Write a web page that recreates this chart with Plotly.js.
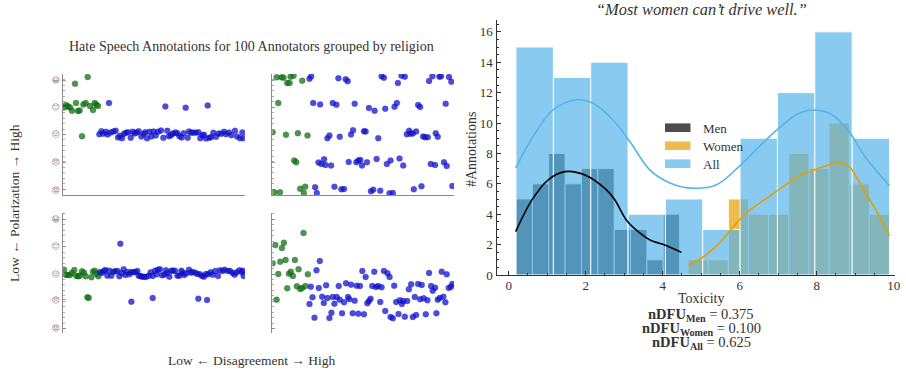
<!DOCTYPE html>
<html><head><meta charset="utf-8">
<script src="https://cdn.plot.ly/plotly-3.0.0.min.js"></script>
<style>html,body{margin:0;padding:0;background:#fff;overflow:hidden}</style>
</head><body><div id="chart" style="width:906px;height:374px"></div>
<script>
// --- Scatter panels: disagreement (x) / polarization (y), two colour groups ---
const p1GreenX=[4,10,16,22,28,40,37,75,46,51,62,69,82,91,96,101,106,58];
const p1GreenY=[81,88,84,81,71,94,152,172,70,72,90,94,85,73,94,89,85,-5];
const p1BlueX=[139,308,369,435,110,116,122,130,135,144,152,159,166,172,178,184,190,196,204,210,216,222,228,236,243,248,253,261,266,273,279,286,295,302,314,319,325,331,338,344,350,357,363,375,379,386,392,400,407,413,419,424,430,440,445,452,460,468,476,484,490,499,506,517,523,532,539,542];
const p1BlueY=[94,84,80,87,1,10,2,8,0,6,9,11,-9,-4,-11,2,5,7,-10,8,3,6,10,-6,2,7,-11,8,-6,9,-3,8,12,-10,11,-5,-2,3,6,4,-5,-9,4,-10,9,5,6,5,7,-11,-2,-1,-12,-10,-8,5,-7,3,2,8,1,6,-2,11,-6,-11,6,-11];

const p2GreenX=[13,28,34,45,52,55,64,90,18,1,41,77,106,66,72,6,23,84,99,95];
const p2GreenY=[171,171,170,154,154,173,176,161,94,7,-1,4,-3,-78,-83,-173,-173,-162,-156,-175];
const p2BlueX=[112,117,199,221,227,329,336,378,389,399,472,482,503,508,532,539,
123,144,182,193,248,291,308,340,368,375,439,445,522,
166,172,203,237,243,276,281,319,405,412,416,423,433,454,460,468,492,498,
139,148,156,160,177,230,253,259,265,270,285,314,345,356,383,394,477,490,517,525,
129,134,187,208,216,297,304,325,353,363,426,449,542];
const p2BlueY=[167,174,168,165,159,174,170,154,176,173,160,174,173,174,172,158,
94,90,94,89,92,79,71,77,83,94,88,82,92,
-11,-3,-7,0,13,10,9,-11,1,11,2,3,9,-6,-8,-8,4,-7,
-84,-88,-74,-91,-93,-82,-83,-78,-76,-93,-83,-73,-88,-78,-72,-93,-88,-91,-83,-94,
-158,-175,-156,-164,-163,-170,-165,-168,-176,-175,-164,-155,-154];

const p3GreenX=[4,10,16,22,28,35,41,47,51,58,64,69,86,91,96,102,107,74,78];
const p3GreenY=[13,-3,-3,-3,4,12,-6,-7,-5,8,4,-7,-10,7,10,0,-7,-70,-72];
const p3BlueX=[173,206,270,407,433,112,118,124,128,134,140,146,152,158,164,170,177,183,188,194,200,206,212,218,224,228,233,238,244,250,258,264,270,277,282,286,292,298,305,310,314,320,326,331,337,344,350,356,360,365,371,379,385,390,398,404,412,418,424,430,436,444,450,458,466,472,480,486,496,502,510,516,522,530,538,540,543];
const p3BlueY=[91,-83,-72,-74,-78,6,3,9,12,-5,10,-5,7,8,9,-7,3,14,-3,6,-1,6,5,6,9,-5,-6,-8,-8,-9,-5,5,-6,10,-1,13,14,-4,-2,11,3,-8,10,10,10,-5,-5,10,4,-3,2,13,4,6,4,0,-1,-6,-8,0,-1,5,-2,9,-6,11,9,13,9,9,3,-2,5,11,5,10,-6];

const p4GreenX=[1,9,13,18,24,29,35,40,45,50,56,62,68,74,79,84,90,94,100,107];
const p4GreenY=[32,87,-77,0,37,78,94,42,-43,1,7,-6,42,-37,14,-45,-42,123,-36,-1];
const p4BlueX=[112,116,121,127,133,140,143,150,155,162,166,172,178,182,187,194,200,203,210,216,222,228,232,237,242,248,254,259,264,271,276,281,286,291,296,301,307,312,319,325,329,336,340,347,353,356,363,367,373,380,384,390,394,399,406,411,418,423,429,433,439,445,450,456,462,467,472,478,483,490,494,498,504,510,515,521,525,531,538,542];
const p4BlueY=[-90,-38,-70,-131,11,-42,39,-68,-87,-34,-72,-132,-116,-69,-89,-69,-36,-77,-118,-85,-28,-69,-76,-32,-118,-80,-35,-119,-36,9,-121,-9,-88,-81,-74,-36,7,-39,-36,-84,-40,9,-111,2,-9,-129,-133,-35,-84,-120,-79,-90,-81,-128,-81,-46,-31,-129,-69,-123,-30,-76,-33,-73,-121,-79,3,-36,-50,-41,-118,-77,-72,7,-68,-85,-1,-42,-38,-30];

const faceLabels=["😡","😠","😐","😊","😀"];
const topTicks=[-166,-84,0,82,162];
const bottomTicks=[-163,-78,0,84,164];

// --- Histogram + KDE panel ---
const allEdgeStart=0.19, allWidth=0.97;
const allCounts=[15,13,14,4,5,3,9,12,16,9];
const menEdgeStart=0.19, menWidth=0.425;
const menCounts=[5,6,8,6,7,7,3,3,1,4];
const womenEdgeStart=4.66, womenWidth=0.523;
const womenCounts=[1,1,5,4,4,8,7,10,6,4];

const menKdeX=[0.18,0.6,1.02,1.46,1.98,2.54,2.76,3.06,3.41,3.67,4.1,4.49];
const menKdeY=[2.85,4.93,6.25,6.8,6.58,5.6,4.93,3.6,2.75,2.3,1.93,1.49];
const womenKdeX=[4.67,5.04,5.47,5.79,6.17,6.76,7.03,7.59,8.06,8.55,8.84,9.1,9.28,9.58,9.89];
const womenKdeY=[0.68,1.17,2.1,3.03,4.07,5.15,5.64,6.58,7.02,7.39,7.13,6.14,5.38,4.07,2.57];
const allKdeX=[0.18,0.63,1.15,1.77,2.19,2.71,3.15,3.67,4.19,4.71,5.38,5.98,6.5,7.02,7.54,7.98,8.41,8.84,9.28,9.89];
const allKdeY=[7.04,9.1,10.86,11.53,11.3,10.2,8.77,6.9,6.05,5.72,5.92,7.13,8.44,9.66,10.65,10.85,10.53,9.43,7.7,5.88];

const legendNames=["Men","Women","All"];
const SERIF='"Liberation Serif", serif';
const W=906,H=374;
const fx=p=>p/W, fy=p=>1-p/H;

function scat(x,y,color,n){
  return {type:'scatter',mode:'markers',x,y,xaxis:'x'+n,yaxis:'y'+n,showlegend:false,
    marker:{size:6,color,opacity:0.75,line:{color:'rgba(0,0,40,0.5)',width:0.5}}};
}
function bars(start,width,counts,color,name){
  return {type:'bar',x:counts.map((_,i)=>start+width*(i+0.5)),y:counts,width:width,name,
    xaxis:'x5',yaxis:'y5',showlegend:false,
    marker:{color,line:{color:'rgba(255,255,255,0.9)',width:1}}};
}
function kde(x,y,color){
  return {type:'scatter',mode:'lines',x,y,xaxis:'x5',yaxis:'y5',showlegend:false,
    line:{color,width:1.6,shape:'spline',smoothing:1}};
}
const traces=[
  scat(p1GreenX,p1GreenY,'#0a7a0a',1),scat(p1BlueX,p1BlueY,'#1010e0',1),
  scat(p2GreenX,p2GreenY,'#0a7a0a',2),scat(p2BlueX,p2BlueY,'#1010e0',2),
  scat(p3GreenX,p3GreenY,'#0a7a0a',3),scat(p3BlueX,p3BlueY,'#1010e0',3),
  scat(p4GreenX,p4GreenY,'#0a7a0a',4),scat(p4BlueX,p4BlueY,'#1010e0',4),
  bars(menEdgeStart,menWidth,menCounts,'rgba(0,0,0,0.7)','Men'),
  bars(womenEdgeStart,womenWidth,womenCounts,'rgba(230,159,0,0.7)','Women'),
  bars(allEdgeStart,allWidth,allCounts,'rgba(86,180,233,0.7)','All'),
  kde(menKdeX,menKdeY,'#000000'),
  kde(womenKdeX,womenKdeY,'#e69f00'),
  kde(allKdeX,allKdeY,'#56b4e9')
];
function xa(l,r){return {domain:[fx(l),fx(r)],range:[0,547],showgrid:false,zeroline:false,showticklabels:false,ticks:'',
  showline:true,linecolor:'#8a8a8a',linewidth:1,fixedrange:true};}
function ya(t,b,rng,ticks,labels){const o={domain:[fy(b),fy(t)],range:rng,showgrid:false,zeroline:false,
  showline:true,linecolor:'#8a8a8a',linewidth:1,ticks:'inside',ticklen:3,tickcolor:'#777',tickwidth:0.7,
  tickfont:{family:'"DejaVu Sans"',size:8,color:'#777'},tickmode:'array',tickvals:ticks,
  minor:{ticks:'inside',ticklen:2,tickcolor:'#888',tickwidth:0.7,tick0:0,dtick:16.4}};
  if(labels){o.ticktext=labels;}else{o.showticklabels=false;}
  return o;}
const pxTop=[74,195], pxBot=[212.7,333.3];
const rngTop=[-181,181], rngBot=[-178,184];
function ann(text,x,y,size,extra){return Object.assign({text,x:fx(x),y:fy(y),xref:'paper',yref:'paper',showarrow:false,
  xanchor:'center',yanchor:'middle',font:{family:SERIF,size,color:'#333'}},extra||{});}
const legY=[127.7,145.7,163.7];
const legC=['rgba(0,0,0,0.7)','rgba(230,159,0,0.7)','rgba(86,180,233,0.7)'];
const layout={
  width:W,height:H,margin:{l:0,r:0,t:0,b:0},paper_bgcolor:'#fff',plot_bgcolor:'rgba(0,0,0,0)',
  barmode:'overlay',bargap:0,showlegend:false,font:{family:SERIF,color:'#333'},
  xaxis:xa(62.7,245),xaxis2:xa(272.3,454),xaxis3:xa(62.7,245),xaxis4:xa(272.3,454),
  yaxis:Object.assign(ya(pxTop[0],pxTop[1],rngTop,topTicks,faceLabels),{anchor:'x'}),
  yaxis2:Object.assign(ya(pxTop[0],pxTop[1],rngTop,topTicks,null),{anchor:'x2'}),
  yaxis3:Object.assign(ya(pxBot[0],pxBot[1],rngBot,bottomTicks,faceLabels),{anchor:'x3'}),
  yaxis4:Object.assign(ya(pxBot[0],pxBot[1],rngBot,bottomTicks,null),{anchor:'x4'}),
  xaxis5:{domain:[fx(497.3),fx(894.5)],range:[-0.296,10.02],anchor:'y5',showgrid:false,zeroline:false,
    showline:true,linecolor:'#333',linewidth:1,ticks:'inside',ticklen:4,tickcolor:'#333',dtick:2,tick0:0,ticklabelstandoff:-2,
    tickfont:{family:SERIF,size:13,color:'#333'},minor:{ticks:'inside',ticklen:2,tickcolor:'#333',dtick:0.5}},
  yaxis5:{domain:[fy(275),fy(20)],range:[0,16.78],anchor:'x5',showgrid:false,zeroline:false,
    showline:true,linecolor:'#333',linewidth:1,ticks:'inside',ticklen:4,tickcolor:'#333',dtick:2,tick0:0,ticklabelstandoff:1,
    tickfont:{family:SERIF,size:13,color:'#333'},minor:{ticks:'inside',ticklen:2,tickcolor:'#333',dtick:0.5}},
  shapes:legY.map((y,i)=>({type:'rect',xref:'paper',yref:'paper',x0:fx(665),x1:fx(690.5),y0:fy(y+4.3),y1:fy(y-4.3),
    fillcolor:legC[i],line:{width:0},layer:'above'})),
  annotations:[
    ann('Hate Speech Annotations for 100 Annotators grouped by religion',252,46.5,14),
    ann('Low ← Polarization → High',15,203,13.5,{textangle:-90}),
    ann('Low ← Disagreement → High',252,360,13.5),
    ann('<i>“Most women can’t drive well.”</i>',701,9.5,16.4),
    ann('#Annotations',471,150,14,{textangle:-90}),
    ann('Toxicity',701,298,14),
    ann('<b>nDFU<sub>Men</sub></b> = 0.375',701,315,14.5),
    ann('<b>nDFU<sub>Women</sub></b> = 0.100',701,329,14.5),
    ann('<b>nDFU<sub>All</sub></b> = 0.625',701,343,14.5),
    ...legendNames.map((t,i)=>ann(t,701,legY[i]+0.3,13,{xanchor:'left'}))
  ]
};
Plotly.newPlot('chart',traces,layout,{staticPlot:true,displayModeBar:false});
</script></body></html>
